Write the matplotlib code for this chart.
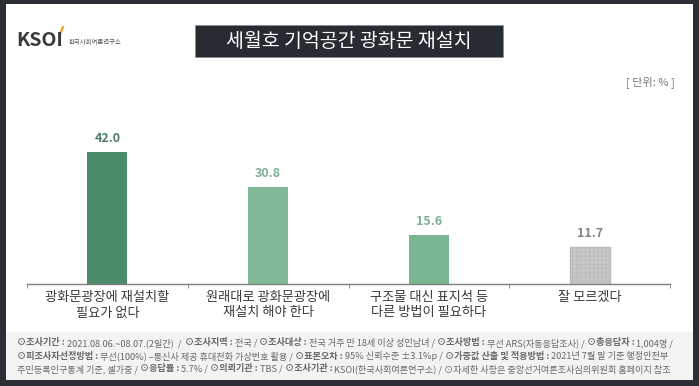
import matplotlib

matplotlib.use("Agg")
from matplotlib import pyplot as plt
from matplotlib.patches import Rectangle
from matplotlib.lines import Line2D
import numpy as np

plt.rcParams['font.family'] = ['Noto Sans CJK KR', 'DejaVu Sans']
plt.rcParams['hatch.linewidth'] = 0.5

categories = ['광화문광장에 재설치할\n필요가 없다',
              '원래대로 광화문광장에\n재설치 해야 한다',
              '구조물 대신 표지석 등\n다른 방법이 필요하다',
              '잘 모르겠다']
values = [42.0, 30.8, 15.6, 11.7]
bar_colors = ['#4b8b69', '#80b898', '#7ab592', '#c8c8c8']
label_colors = ['#4e7c66', '#7fae94', '#7fae94', '#858585']

title = '세월호 기억공간 광화문 재설치'
unit = '[ 단위: % ]'

footer = [
    [('⊙조사기간 : ', True), ('2021.08.06.~08.07.(2일간)  /  ', False),
     ('⊙조사지역 : ', True), ('전국 / ', False),
     ('⊙조사대상 : ', True), ('전국 거주 만 18세 이상 성인남녀 / ', False),
     ('⊙조사방법 : ', True), ('무선 ARS(자동응답조사) / ', False),
     ('⊙총응답자 : ', True), ('1,004명 /', False)],
    [('⊙피조사자선정방법 : ', True), ('무선(100%) –통신사 제공 휴대전화 가상번호 활용 / ', False),
     ('⊙표본오차 : ', True), ('95% 신뢰수준 ±3.1%p / ', False),
     ('⊙가중값 산출 및 적용방법 : ', True), ('2021년 7월 말 기준 행정안전부', False)],
    [('주민등록인구통계 기준, 셀가중 / ', False),
     ('⊙응답률 : ', True), ('5.7% / ', False),
     ('⊙의뢰기관 : ', True), ('TBS / ', False),
     ('⊙조사기관 : ', True), ('KSOI(한국사회여론연구소) / ⊙자세한 사항은 중앙선거여론조사심의위원회 홈페이지 참조', False)],
]

W, H = 699, 386
fig = plt.figure(figsize=(W / 100, H / 100), dpi=100, facecolor='#2b2f33')


def px(x, y):
    # pixel coords (top-left origin) -> figure fraction
    return x / W, 1 - y / H


# white page and grey footer band
fig.patches.append(Rectangle((6 / W, 6 / H), 687 / W, 376 / H,
                             transform=fig.transFigure, facecolor='white',
                             edgecolor='none', zorder=-3))
fig.patches.append(Rectangle((6 / W, 6 / H), 687 / W, 48 / H,
                             transform=fig.transFigure, facecolor='#f3f3f3',
                             edgecolor='none', zorder=-2))

# title box
fig.patches.append(Rectangle(px(195, 57), 308 / W, 32 / H,
                             transform=fig.transFigure, facecolor='#262c32',
                             edgecolor='#8a8f94', linewidth=0.6, zorder=1))
fig.text(*px(349, 41.5), title, color='white', fontsize=14,
         ha='center', va='center')

# logo
fig.text(*px(16, 41), 'KSOI', color='#3a3a3a', fontsize=14, fontweight='bold',
         ha='left', va='center')
x0, y0 = px(60.5, 33)
x1, y1 = px(63, 27)
fig.lines.append(Line2D([x0, x1], [y0, y1], transform=fig.transFigure,
                        color='#f0a020', linewidth=1.6, solid_capstyle='round'))
fig.text(*px(69, 42), '한국사회여론연구소', color='#555555', fontsize=4.6,
         ha='left', va='center')

fig.text(*px(675, 82), unit, color='#777777', fontsize=8, ha='right', va='center')

# bar chart
ax = fig.add_axes([27 / W, 1 - 284 / H, 643 / W, 164 / H])
x = np.arange(len(values))
bars = ax.bar(x, values, width=0.25, color=bar_colors, edgecolor='none')
bars[3].set_hatch('++++')
bars[3].set_edgecolor('#bababa')
ax.set_xlim(-0.5, len(values) - 0.5)
ax.set_ylim(0, 164 / 3.14)
for xi, v, c in zip(x, values, label_colors):
    ax.text(xi, v + 2.3, f'{v:.1f}', color=c, fontsize=9, fontweight='bold',
            ha='center', va='bottom')

for s in ['top', 'right', 'left']:
    ax.spines[s].set_visible(False)
ax.spines['bottom'].set_color('#7f7f7f')
ax.spines['bottom'].set_linewidth(1)
ax.set_yticks([])
ax.set_xticks(np.arange(len(values) + 1) - 0.5, minor=True)
ax.tick_params(axis='x', which='minor', length=3, color='#7f7f7f')
ax.set_xticks(x)
ax.set_xticklabels(categories, fontsize=9.5, color='#3a3a3a', linespacing=1.25)
ax.tick_params(axis='x', which='major', length=0, pad=5)
ax.patch.set_alpha(0)

# footer text with bold keys
renderer = fig.canvas.get_renderer()
ys = [343, 356, 369]
for line, yy in zip(footer, ys):
    xx = 17 / W
    for s, bold in line:
        t = fig.text(xx, 1 - yy / H, s, fontsize=6.6, color='#686868',
                     fontweight='bold' if bold else 'normal',
                     ha='left', va='center')
        bb = t.get_window_extent(renderer)
        xx += bb.width / W

fig.savefig('out.png', dpi=100, facecolor=fig.get_facecolor())
